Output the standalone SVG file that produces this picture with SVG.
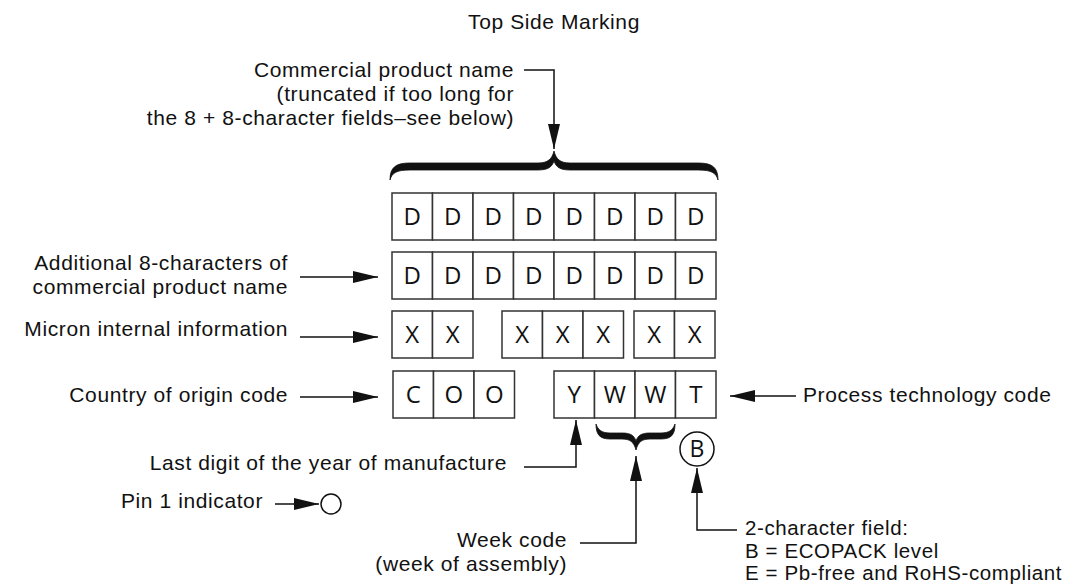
<svg xmlns="http://www.w3.org/2000/svg" width="1079" height="586" viewBox="0 0 1079 586">
<style>
text{font-family:"Liberation Sans",Arial,sans-serif;font-size:21px;letter-spacing:0.6px;fill:#111}
.r{text-anchor:end}
.c{text-anchor:middle}
.big{font-family:"Open Sans","Noto Sans",sans-serif;font-size:24px;letter-spacing:0}
.sm{font-size:20.5px}
.cell{fill:#fff;stroke:#333;stroke-width:1.5}
.ln{fill:none;stroke:#111;stroke-width:1.5}
.brace{fill:#111;stroke:#111;stroke-width:0.8}
</style>
<defs>
<marker id="ah" viewBox="0 0 25 12" refX="25" refY="6" markerWidth="25" markerHeight="12" markerUnits="userSpaceOnUse" orient="auto">
<path d="M0,0 L25,6 L0,12 z" fill="#111"/>
</marker>
</defs>
<rect width="1079" height="586" fill="#fff"/>
<text id="title" class="c" x="554" y="29">Top Side Marking</text>

<g id="row1">
<rect class="cell" x="392" y="193" width="40.5" height="47"/><rect class="cell" x="432.5" y="193" width="40.5" height="47"/><rect class="cell" x="473" y="193" width="40.5" height="47"/><rect class="cell" x="513.5" y="193" width="40.5" height="47"/><rect class="cell" x="554" y="193" width="40.5" height="47"/><rect class="cell" x="594.5" y="193" width="40.5" height="47"/><rect class="cell" x="635" y="193" width="40.5" height="47"/><rect class="cell" x="675.5" y="193" width="40.5" height="47"/>
<text class="c big" x="412.25" y="225">D</text><text class="c big" x="452.75" y="225">D</text><text class="c big" x="493.25" y="225">D</text><text class="c big" x="533.75" y="225">D</text><text class="c big" x="574.25" y="225">D</text><text class="c big" x="614.75" y="225">D</text><text class="c big" x="655.25" y="225">D</text><text class="c big" x="695.75" y="225">D</text>
</g>
<g id="row2">
<rect class="cell" x="392" y="252" width="40.5" height="47"/><rect class="cell" x="432.5" y="252" width="40.5" height="47"/><rect class="cell" x="473" y="252" width="40.5" height="47"/><rect class="cell" x="513.5" y="252" width="40.5" height="47"/><rect class="cell" x="554" y="252" width="40.5" height="47"/><rect class="cell" x="594.5" y="252" width="40.5" height="47"/><rect class="cell" x="635" y="252" width="40.5" height="47"/><rect class="cell" x="675.5" y="252" width="40.5" height="47"/>
<text class="c big" x="412.25" y="284">D</text><text class="c big" x="452.75" y="284">D</text><text class="c big" x="493.25" y="284">D</text><text class="c big" x="533.75" y="284">D</text><text class="c big" x="574.25" y="284">D</text><text class="c big" x="614.75" y="284">D</text><text class="c big" x="655.25" y="284">D</text><text class="c big" x="695.75" y="284">D</text>
</g>
<g id="row3">
<rect class="cell" x="392" y="311" width="40.5" height="47"/><rect class="cell" x="432.5" y="311" width="40.5" height="47"/>
<rect class="cell" x="502" y="311" width="40.5" height="47"/><rect class="cell" x="542.5" y="311" width="40.5" height="47"/><rect class="cell" x="583" y="311" width="40.5" height="47"/>
<rect class="cell" x="634" y="311" width="40.5" height="47"/><rect class="cell" x="674.5" y="311" width="40.5" height="47"/>
<text class="c big" x="412.25" y="343">X</text><text class="c big" x="452.75" y="343">X</text>
<text class="c big" x="522.25" y="343">X</text><text class="c big" x="562.75" y="343">X</text><text class="c big" x="603.25" y="343">X</text>
<text class="c big" x="654.25" y="343">X</text><text class="c big" x="694.75" y="343">X</text>
</g>
<g id="row4">
<rect class="cell" x="393" y="371" width="40.5" height="47"/><rect class="cell" x="433.5" y="371" width="40.5" height="47"/><rect class="cell" x="474" y="371" width="40.5" height="47"/>
<rect class="cell" x="554" y="371" width="40.5" height="47"/><rect class="cell" x="594.5" y="371" width="40.5" height="47"/><rect class="cell" x="635" y="371" width="40.5" height="47"/><rect class="cell" x="675.5" y="371" width="40.5" height="47"/>
<text class="c big" x="413.25" y="403">C</text><text class="c big" x="453.75" y="403">O</text><text class="c big" x="494.25" y="403">O</text>
<text class="c big" x="574.25" y="403">Y</text><text class="c big" x="614.75" y="403">W</text><text class="c big" x="655.25" y="403">W</text><text class="c big" x="695.75" y="403">T</text>
</g>
<g id="top-brace">
<path class="brace" d="M390,180 C390,167 396,163 410,163 L538,163 C548,163 552,159 554,151 C556,159 560,163 570,163 L698,163 C712,163 718,167 718,180 C716,173 712,170 698,170 L570,170 C560,170 556,167 554,161 C552,167 548,170 538,170 L410,170 C396,170 392,173 390,180 Z"/>
</g>
<g id="week-brace">
<path class="brace" d="M596,424 C596,435 600,439 610,439 L622,439 C630,439 634,442 636,450 C638,442 642,439 650,439 L661,439 C671,439 675,435 675,424 C673,430 669,433 661,433 L650,433 C642,433 638,435 636,441 C634,435 630,433 622,433 L610,433 C602,433 598,430 596,424 Z"/>
</g>
<g id="pin1">
<circle cx="331" cy="504" r="10" fill="#fff" stroke="#111" stroke-width="1.5"/>
</g>
<g id="b-circle">
<circle cx="697" cy="449" r="17" fill="#fff" stroke="#111" stroke-width="1.5"/>
<text class="c big" x="697" y="457" style="font-size:23px">B</text>
</g>

<g id="labels">
<text class="r" x="514" y="77">Commercial product name</text>
<text class="r" x="514" y="101">(truncated if too long for</text>
<text class="r" x="514" y="125">the 8 + 8-character fields–see below)</text>
<text class="r" x="288" y="270">Additional 8-characters of</text>
<text class="r" x="288" y="294">commercial product name</text>
<text class="r" x="288" y="336">Micron internal information</text>
<text class="r" x="288" y="402">Country of origin code</text>
<text x="803" y="402">Process technology code</text>
<text class="r" x="507" y="470">Last digit of the year of manufacture</text>
<text class="r" x="263" y="508">Pin 1 indicator</text>
<text class="r" x="567" y="547">Week code</text>
<text class="r" x="567" y="571">(week of assembly)</text>
<text class="sm" x="745" y="535">2-character field:</text>
<text class="sm" x="745" y="558">B = ECOPACK level</text>
<text class="sm" x="745" y="580">E = Pb-free and RoHS-compliant</text>
</g>

<g id="connectors">
<path class="ln" d="M524,70 H554 V149" marker-end="url(#ah)"/>
<path class="ln" d="M300,277 H378" marker-end="url(#ah)"/>
<path class="ln" d="M300,337 H378" marker-end="url(#ah)"/>
<path class="ln" d="M300,397 H378" marker-end="url(#ah)"/>
<path class="ln" d="M796,396 H730" marker-end="url(#ah)"/>
<path class="ln" d="M524,467 H576 V420" marker-end="url(#ah)"/>
<path class="ln" d="M580,543 H636 V456" marker-end="url(#ah)"/>
<path class="ln" d="M275,504 H319" marker-end="url(#ah)"/>
<path class="ln" d="M737,530 H697 V468" marker-end="url(#ah)"/>
</g>
</svg>
